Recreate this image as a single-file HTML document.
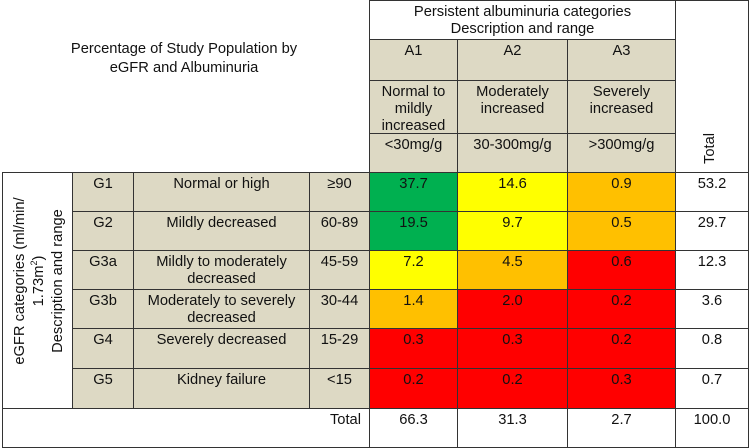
<!DOCTYPE html>
<html><head><meta charset="utf-8">
<style>
body{margin:0;width:749px;height:448px;background:#fff;overflow:hidden;font-family:"Liberation Sans",Arial,sans-serif;font-size:14.7px;color:#111}
#t{position:relative;width:749px;height:448px}
.c{position:absolute;box-sizing:border-box;border:1px solid #333;text-align:center;line-height:17px;padding-top:3px;overflow:hidden}
.tan{background:#ddd9c4}
</style></head><body>
<div id="t">
<div style="position:absolute;left:0;top:40px;width:368px;text-align:center;line-height:19px">Percentage of Study Population by<br>eGFR and Albuminuria</div>
</div>
<script>
const gCats=["G1","G2","G3a","G3b","G4","G5"];
const gDesc=["Normal or high","Mildly decreased","Mildly to moderately decreased","Moderately to severely decreased","Severely decreased","Kidney failure"];
const gRange=["≥90","60-89","45-59","30-44","15-29","<15"];
const aCats=["A1","A2","A3"];
const aDesc=["Normal to mildly increased","Moderately increased","Severely increased"];
const aRange=["<30mg/g","30-300mg/g",">300mg/g"];
const A1=[37.7,19.5,7.2,1.4,0.3,0.2];
const A2=[14.6,9.7,4.5,2.0,0.3,0.2];
const A3=[0.9,0.5,0.6,0.2,0.2,0.3];
const rowTotals=[53.2,29.7,12.3,3.6,0.8,0.7];
const colTotals=[66.3,31.3,2.7];
const grandTotal=100.0;
const riskLevels=[["green","yellow","orange"],["green","yellow","orange"],["yellow","orange","red"],["orange","red","red"],["red","red","red"],["red","red","red"]];
const palette={green:"#00b050",yellow:"#ffff00",orange:"#ffc000",red:"#ff0000"};
const series=[A1,A2,A3];
const t=document.getElementById('t');
const colX=[369,457,567,675,748];
const rowY=[172,211,250,289,328,368,408,447];
function cell(x,y,w,h,txt,cls,bg,name){
  const d=document.createElement('div');
  d.className='c'+(cls?' '+cls:'');
  d.style.left=x+'px';d.style.top=y+'px';d.style.width=(w+1)+'px';d.style.height=(h+1)+'px';
  if(bg)d.style.background=bg;
  d.innerHTML=txt;
  
  
  t.appendChild(d);return d;
}
cell(369,0,306,39,"Persistent albuminuria categories<br>Description and range","",null,"albuminuria-header");
const th=cell(675,0,73,172,"","",null,"total-header");
const tt=document.createElement('div');
tt.textContent="Total";
tt.style.cssText="position:absolute;transform:rotate(-90deg);transform-origin:left top;left:26px;top:163px";


th.appendChild(tt);
for(let j=0;j<3;j++){
  const x=colX[j],w=colX[j+1]-x;
  cell(x,39,w,41,aCats[j],"tan",null,"albuminuria-cat-"+aCats[j].toLowerCase());
  cell(x,80,w,53,aDesc[j].replace("Normal to mildly","Normal to<br>mildly"),"tan",null,"albuminuria-desc-"+aCats[j].toLowerCase());
  cell(x,133,w,39,aRange[j],"tan",null,"albuminuria-range-"+aCats[j].toLowerCase());
}
const vl=cell(2,172,70,236,"","",null,"egfr-axis-label-cell");
const vt=document.createElement('div');
vt.innerHTML="eGFR categories (ml/min/<br>1.73m<sup style='font-size:9px;line-height:0'>2</sup>)<br>Description and range";
vt.style.cssText="position:absolute;width:236px;left:8px;top:226px;transform:rotate(-90deg);transform-origin:left top;text-align:center;line-height:19px";


vl.appendChild(vt);
for(let i=0;i<6;i++){
  const y=rowY[i],h=rowY[i+1]-y;
  cell(72,y,61,h,gCats[i],"tan",null,"egfr-cat-"+gCats[i].toLowerCase());
  cell(133,y,176,h,gDesc[i],"tan",null,"egfr-desc-"+gCats[i].toLowerCase());
  cell(309,y,60,h,gRange[i],"tan",null,"egfr-range-"+gCats[i].toLowerCase());
  for(let j=0;j<3;j++){
    cell(colX[j],y,colX[j+1]-colX[j],h,series[j][i].toFixed(1),"",palette[riskLevels[i][j]],"heat-cell-"+gCats[i].toLowerCase()+"-"+aCats[j].toLowerCase());
  }
  cell(675,y,73,h,rowTotals[i].toFixed(1),"",null,"row-total-"+gCats[i].toLowerCase());
}
const tl=cell(2,408,367,39,"Total","",null,"total-row-label");
tl.style.textAlign="right";tl.style.paddingRight="8px";
for(let j=0;j<3;j++)cell(colX[j],408,colX[j+1]-colX[j],39,colTotals[j].toFixed(1),"",null,"col-total-"+aCats[j].toLowerCase());
cell(675,408,73,39,grandTotal.toFixed(1),"",null,"grand-total");
</script>
</body></html>
